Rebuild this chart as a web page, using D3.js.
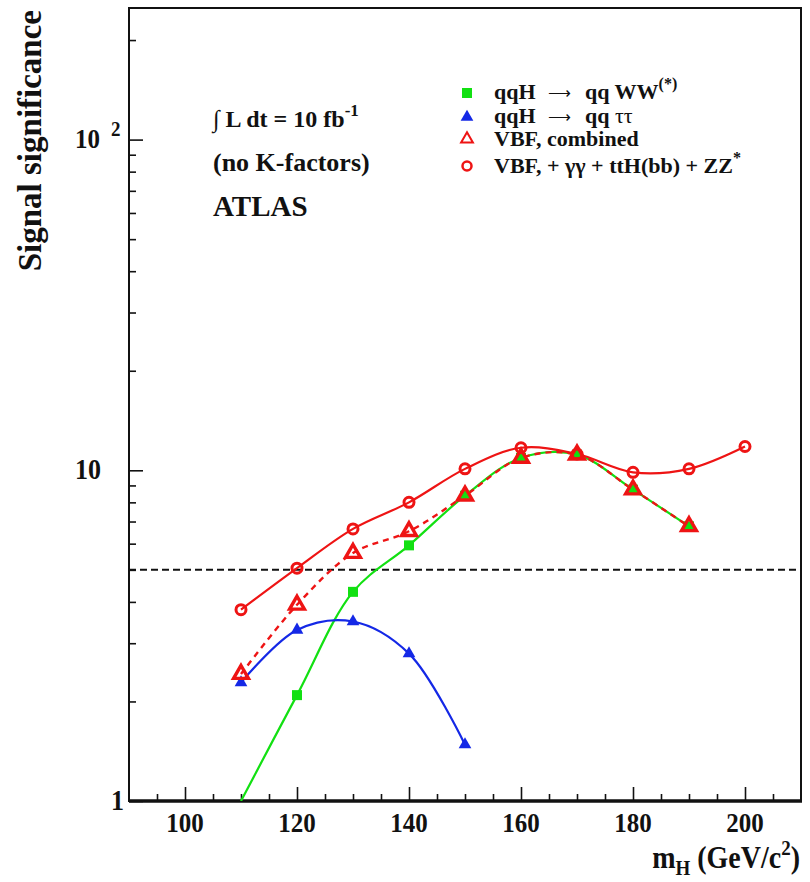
<!DOCTYPE html>
<html>
<head>
<meta charset="utf-8">
<script src="https://cdn.jsdelivr.net/npm/d3@7"></script>
<style>
  body { margin: 0; background: #fff; }
  svg text { font-family: "Liberation Serif", "Times New Roman", serif; font-weight: bold; fill: #111; white-space: pre; }
</style>
</head>
<body>
<svg id="chart" width="810" height="882"></svg>
<script>
// VBF Higgs discovery significance vs mass, ATLAS 10 fb-1
const massWW  = [110, 120, 130, 140, 150, 160, 170, 180, 190];
const sigWW   = [1.0, 2.09, 4.29, 5.93, 8.38, 10.9, 11.15, 8.74, 6.77];
const massTau = [110, 120, 130, 140, 150];
const sigTau  = [2.28, 3.29, 3.49, 2.79, 1.48];
const massVBF = [110, 120, 130, 140, 150, 160, 170, 180, 190];
const sigVBF  = [2.42, 3.92, 5.62, 6.54, 8.38, 10.9, 11.15, 8.74, 6.77];
const massAll = [110, 120, 130, 140, 150, 160, 170, 180, 190, 200];
const sigAll  = [3.79, 5.06, 6.65, 8.0, 10.1, 11.7, 11.2, 9.86, 10.1, 11.8];
const discovery = 5;

const xTicksMajor = [100, 120, 140, 160, 180, 200];
const yTicksMajor = [1, 10, 100];

const green = "#12e012", blue = "#1428e6", red = "#ee1414";

var svg = d3.select("#chart");
// note: "top" is a reserved window property, so use frame* names
var frameL = 129, frameR = 801, frameT = 8, frameB = 801;
var stretch = 1.12; // the original fonts are a bit taller than Liberation Serif

var x = d3.scaleLinear().domain([90, 210]).range([frameL, frameR]);
var y = d3.scaleLog().domain([1, 250]).range([frameB, frameT]);

svg.append("defs").append("clipPath").attr("id", "plotclip")
    .append("rect")
    .attr("x", frameL).attr("y", frameT)
    .attr("width", frameR - frameL).attr("height", frameB - frameT);

// minor ticks: x every 5, y 2..9 per decade
var xMinor = d3.range(95, 210, 5).filter(function(d){ return d % 20 !== 0; });
var yMinor = [];
[1, 10, 100].forEach(function(dec){
    for(var k = 2; k <= 9; k++){
        if(dec*k <= 250) yMinor.push(dec*k);
    }
});

var xAxisMajor = d3.axisTop(x).tickValues(xTicksMajor).tickSize(14).tickFormat("");
var xAxisMinor = d3.axisTop(x).tickValues(xMinor).tickSize(7).tickFormat("");
var yAxisMajor = d3.axisRight(y).tickValues(yTicksMajor).tickSize(14).tickFormat("");
var yAxisMinor = d3.axisRight(y).tickValues(yMinor).tickSize(7).tickFormat("");

[xAxisMajor, xAxisMinor].forEach(function(ax){
    svg.append("g").attr("transform", "translate(0," + frameB + ")").call(ax)
        .call(function(g){ g.select(".domain").remove(); })
        .selectAll("line").attr("stroke", "#111").attr("stroke-width", 1.6);
});
[yAxisMajor, yAxisMinor].forEach(function(ax){
    svg.append("g").attr("transform", "translate(" + frameL + ",0)").call(ax)
        .call(function(g){ g.select(".domain").remove(); })
        .selectAll("line").attr("stroke", "#111").attr("stroke-width", 1.6);
});

// frame
svg.append("rect")
    .attr("x", frameL).attr("y", frameT)
    .attr("width", frameR - frameL).attr("height", frameB - frameT)
    .attr("fill", "none").attr("stroke", "#111").attr("stroke-width", 2);
svg.append("line")
    .attr("x1", frameL).attr("x2", frameR + 1)
    .attr("y1", frameB).attr("y2", frameB)
    .attr("stroke", "#111").attr("stroke-width", 3.5);

// tick labels
svg.append("g").selectAll("text")
    .data(xTicksMajor)
    .enter().append("text")
    .attr("transform", function(d){ return "translate(" + x(d) + ",832) scale(1," + stretch + ")"; })
    .attr("text-anchor", "middle")
    .attr("font-size", "25px")
    .text(function(d){ return d; });

svg.append("text")
    .attr("transform", "translate(100," + (y(100) + 8) + ") scale(1," + stretch + ")")
    .attr("text-anchor", "end").attr("font-size", "25px")
    .text("10");
svg.append("text")
    .attr("transform", "translate(111," + (y(100) - 4) + ") scale(1," + stretch + ")")
    .attr("font-size", "19px")
    .text("2");
svg.append("text")
    .attr("transform", "translate(101," + (y(10) + 9) + ") scale(1," + stretch + ")")
    .attr("text-anchor", "end").attr("font-size", "26px")
    .text("10");
svg.append("text")
    .attr("transform", "translate(124," + (y(1) + 9) + ") scale(1," + stretch + ")")
    .attr("text-anchor", "end").attr("font-size", "26px")
    .text("1");

// axis titles
svg.append("text")
    .attr("transform", "translate(41,10) rotate(-90)")
    .attr("text-anchor", "end")
    .attr("font-size", "33px")
    .text("Signal significance");

var xt = svg.append("text")
    .attr("transform", "translate(800,868) scale(1," + stretch + ")")
    .attr("text-anchor", "end").attr("font-size", "28px");
xt.append("tspan").text("m");
xt.append("tspan").attr("dy", 6).attr("font-size", "19px").text("H");
xt.append("tspan").attr("dy", -6).text(" (GeV/c");
xt.append("tspan").attr("dy", -12).attr("font-size", "19px").text("2");
xt.append("tspan").attr("dy", 12).text(")");

// 5 sigma line
svg.append("line")
    .attr("x1", frameL).attr("x2", frameR)
    .attr("y1", y(discovery)).attr("y2", y(discovery))
    .attr("stroke", "#111").attr("stroke-width", 2)
    .attr("stroke-dasharray", "7,4");

// curves
var plot = svg.append("g").attr("clip-path", "url(#plotclip)");
function curve(ms, vs){
    return d3.line()
        .x(function(d,i){ return x(ms[i]); })
        .y(function(d){ return y(d); })
        .curve(d3.curveCatmullRom.alpha(0.5))(vs);
}
plot.append("path").attr("d", curve(massWW, sigWW))
    .attr("fill", "none").attr("stroke", green).attr("stroke-width", 2.2);
plot.append("path").attr("d", curve(massTau, sigTau))
    .attr("fill", "none").attr("stroke", blue).attr("stroke-width", 2.2);
plot.append("path").attr("d", curve(massVBF, sigVBF))
    .attr("fill", "none").attr("stroke", red).attr("stroke-width", 2.4)
    .attr("stroke-dasharray", "6,5");
plot.append("path").attr("d", curve(massAll, sigAll))
    .attr("fill", "none").attr("stroke", red).attr("stroke-width", 2.2);

// markers
var sqr = d3.symbol().type(d3.symbolSquare).size(100);
var triFill = d3.symbol().type(d3.symbolTriangle).size(70);
var triOpen = d3.symbol().type(d3.symbolTriangle).size(95);

function markers(ms, vs, sym, fill, stroke, sw){
    plot.append("g").selectAll("path")
        .data(vs.map(function(v,i){ return {m: ms[i], v: v}; }).filter(function(d){ return d.v > 1; }))
        .enter().append("path")
        .attr("transform", function(d){ return "translate(" + x(d.m) + "," + y(d.v) + ")"; })
        .attr("d", sym)
        .attr("fill", fill)
        .attr("stroke", stroke)
        .attr("stroke-width", sw);
}
markers(massWW, sigWW, sqr, green, "none", 0);
markers(massTau, sigTau, triFill, blue, "none", 0);
markers(massVBF, sigVBF, triOpen, "none", red, 3.4);
plot.append("g").selectAll("circle")
    .data(sigAll)
    .enter().append("circle")
    .attr("cx", function(d,i){ return x(massAll[i]); })
    .attr("cy", function(d){ return y(d); })
    .attr("r", 5)
    .attr("fill", "none").attr("stroke", red).attr("stroke-width", 3);

// annotations
var lumi = svg.append("text").attr("x", 213).attr("y", 127).attr("font-size", "24px");
lumi.append("tspan").text("\u222B L dt = 10 fb");
lumi.append("tspan").attr("dy", -11).attr("font-size", "17px").text("-1");
svg.append("text").attr("x", 213).attr("y", 171).attr("font-size", "26px").text("(no K-factors)");
svg.append("text").attr("x", 213).attr("y", 216).attr("font-size", "29px").text("ATLAS");

// legend
var legX = 467, legTextX = 494;
var legRows = [93, 117, 139, 166];
var leg = svg.append("g");
leg.append("path").attr("transform", "translate(" + legX + "," + legRows[0] + ")")
    .attr("d", sqr).attr("fill", green);
leg.append("path").attr("transform", "translate(" + legX + "," + legRows[1] + ")")
    .attr("d", triFill).attr("fill", blue);
leg.append("path").attr("transform", "translate(" + legX + "," + legRows[2] + ")")
    .attr("d", d3.symbol().type(d3.symbolTriangle).size(60)).attr("fill", "none")
    .attr("stroke", red).attr("stroke-width", 2);
leg.append("circle").attr("cx", legX).attr("cy", legRows[3]).attr("r", 4.5)
    .attr("fill", "none").attr("stroke", red).attr("stroke-width", 2.5);

function arrowRow(yb, label, sup){
    var t = leg.append("text").attr("x", legTextX).attr("y", yb).attr("font-size", "22px");
    t.append("tspan").text("qqH");
    t.append("tspan").attr("x", legTextX + 54).attr("dy", -1).attr("font-weight", "normal")
        .attr("font-size", "16px").text("\u27F6");
    t.append("tspan").attr("x", legTextX + 91).attr("dy", 1).text("qq ");
    label(t);
    if(sup) t.append("tspan").attr("dy", -10).attr("font-size", "16px").text(sup);
}
arrowRow(99, function(t){ t.append("tspan").text("WW"); }, "(*)");
arrowRow(123, function(t){ t.append("tspan").attr("font-weight", "normal").text("\u03C4\u03C4"); }, null);
leg.append("text").attr("x", legTextX).attr("y", 146).attr("font-size", "22px").text("VBF, combined");
var t4 = leg.append("text").attr("x", legTextX).attr("y", 173).attr("font-size", "22px");
t4.append("tspan").text("VBF, + \u03B3\u03B3 + ttH(bb) + ZZ");
t4.append("tspan").attr("dy", -10).attr("font-size", "16px").text("*");
</script>
</body>
</html>
